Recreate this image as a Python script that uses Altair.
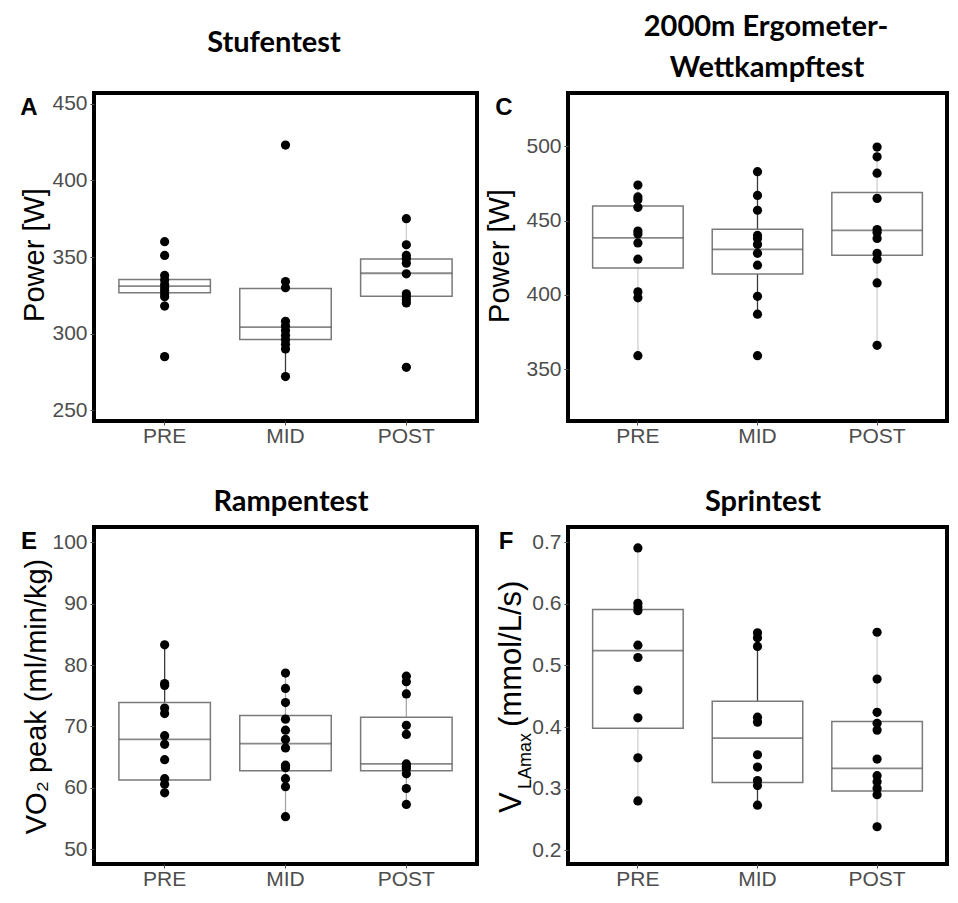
import altair as alt
import pandas as pd

cats = ["PRE", "MID", "POST"]

# ---------------- Panel A: Stufentest, Power [W]
a_pre = [360, 351, 338, 335, 332, 330, 328, 326, 324, 318, 285]
a_mid = [423, 334, 330, 308, 305, 302, 299, 296, 293, 290, 272]
a_post = [375, 358, 351, 349, 346, 339, 326, 324, 322, 320, 278]
a_q1 = [326.7, 296.1, 324.4]
a_med = [331.0, 304.3, 339.4]
a_q3 = [335.3, 329.5, 348.7]
a_lo = [318, 272, 320]
a_hi = [338, 334, 375]

# ---------------- Panel C: 2000m Ergometer-Wettkampftest, Power [W]
c_pre = [474, 466, 464, 459, 443, 441, 435, 424, 402, 398, 359]
c_mid = [483, 467, 457, 440, 438, 434, 428, 420, 399, 387, 359]
c_post = [499.6, 493, 482, 465, 444, 442, 438, 428, 424, 408, 366]
c_q1 = [418.1, 414.1, 426.7]
c_med = [438.4, 430.7, 443.5]
c_q3 = [459.9, 444.2, 469.0]
c_lo = [359, 387, 366]
c_hi = [474, 483, 499.6]

# ---------------- Panel E: Rampentest, VO2 peak
e_pre = [83.3, 77.0, 76.7, 73.0, 72.1, 68.5, 67.1, 64.6, 61.5, 60.6, 59.2]
e_mid = [78.7, 76.2, 73.9, 71.2, 69.4, 67.9, 66.5, 63.7, 63.3, 61.5, 60.2, 55.3]
e_post = [78.2, 77.3, 75.3, 70.2, 68.7, 63.9, 63.5, 63.1, 62.3, 59.9, 57.3]
e_q1 = [61.3, 62.8, 62.8]
e_med = [67.9, 67.2, 63.9]
e_q3 = [73.9, 71.8, 71.5]
e_lo = [59.2, 55.3, 57.3]
e_hi = [83.3, 78.7, 78.2]

# ---------------- Panel F: Sprintest, VLamax
f_pre = [0.691, 0.601, 0.595, 0.589, 0.533, 0.513, 0.460, 0.415, 0.350, 0.280]
f_mid = [0.553, 0.545, 0.531, 0.416, 0.408, 0.355, 0.335, 0.313, 0.305, 0.273]
f_post = [0.554, 0.478, 0.424, 0.406, 0.395, 0.348, 0.321, 0.311, 0.300, 0.290, 0.238]
f_q1 = [0.398, 0.310, 0.296]
f_med = [0.524, 0.382, 0.333]
f_q3 = [0.591, 0.442, 0.409]
f_lo = [0.280, 0.273, 0.238]
f_hi = [0.691, 0.553, 0.554]

LIGHT = "#cfcfcf"
DARK = "#3a3a3a"
MIDG = "#a5a5a5"

PI = 0.243
PO = 0.206
LABEL_FONT = "Liberation Sans"
TITLE_FONT = "Lato"


def txt(s, size, x, y, angle=0, align="center", baseline="middle",
        weight="normal", font=LABEL_FONT):
    return alt.Chart(pd.DataFrame({"t": [s]})).mark_text(
        font=font, fontSize=size, angle=angle, align=align,
        baseline=baseline, fontWeight=weight, color="black").encode(
        text="t:N", x=alt.value(x), y=alt.value(y))


def panel(points, q1, med, q3, lo, hi, wcols, domain, ticks, fmt, w, h,
          extras):
    pts = pd.DataFrame(
        [(c, v) for c, vals in zip(cats, points) for v in vals],
        columns=["cat", "value"],
    )
    st = pd.DataFrame({"cat": cats, "lo": lo, "q1": q1, "med": med,
                       "q3": q3, "hi": hi, "wcol": wcols})
    bw = w / (3 - PI + 2 * PO) * (1 - PI)
    xaxis = alt.Axis(title=None, labelAngle=0, labelFontSize=21,
                     labelPadding=0, tickSize=4, labelFont=LABEL_FONT)
    xs = alt.X("cat:N", sort=cats,
               scale=alt.Scale(paddingInner=PI, paddingOuter=PO),
               axis=xaxis)
    ysc = alt.Scale(domain=domain, nice=False, zero=False)
    yaxis = alt.Axis(values=ticks, format=fmt, title=None,
                     labelFontSize=21, tickSize=4, labelPadding=3)
    base = alt.Chart(st)
    wl = base.mark_rule(strokeWidth=1.3).encode(
        x=xs, y=alt.Y("lo:Q", scale=ysc, axis=yaxis), y2="q1:Q",
        color=alt.Color("wcol:N", scale=None))
    wh = base.mark_rule(strokeWidth=1.3).encode(
        x=xs, y=alt.Y("q3:Q", scale=ysc, axis=yaxis), y2="hi:Q",
        color=alt.Color("wcol:N", scale=None))
    box = base.mark_bar(fill="white", stroke="#7a7a7a", strokeWidth=1.5).encode(
        x=xs, y=alt.Y("q1:Q", scale=ysc, axis=yaxis), y2="q3:Q")
    md = base.mark_tick(color="#555555", thickness=1.8, size=bw).encode(
        x=xs, y=alt.Y("med:Q", scale=ysc, axis=yaxis))
    pt = alt.Chart(pts).mark_circle(size=85, color="black", opacity=1).encode(
        x=xs, y=alt.Y("value:Q", scale=ysc, axis=yaxis))
    return alt.layer(wl, wh, box, md, pt, *extras).properties(width=w, height=h)


H1 = 328
H2 = 337
TS = 29   # panel title size
YS = 29   # y title size
LS = 24   # panel letter size

wA, wC, wE, wF = 383, 379, 383, 379

pA = panel([a_pre, a_mid, a_post], a_q1, a_med, a_q3, a_lo, a_hi,
           [LIGHT, DARK, LIGHT], [243, 457], [250, 300, 350, 400, 450], "d",
           wA, H1,
           [txt("Stufentest", TS, 180, -50, weight="bold", font=TITLE_FONT),
            txt("A", LS, -65, 15, weight="bold"),
            txt("Power [W]", YS, -50, H1 / 2 - 2, angle=270,
                baseline="alphabetic")])

pC = panel([c_pre, c_mid, c_post], c_q1, c_med, c_q3, c_lo, c_hi,
           [LIGHT, DARK, LIGHT], [315, 536], [350, 400, 450, 500], "d",
           wC, H1,
           [txt("2000m Ergometer-", TS, 198, -66, weight="bold", font=TITLE_FONT),
            txt("Wettkampftest", TS, 199, -25, weight="bold", font=TITLE_FONT),
            txt("C", LS, -64, 15, weight="bold"),
            txt("Power [W]", YS, -59, H1 / 2 - 1, angle=270,
                baseline="alphabetic")])

pE = panel([e_pre, e_mid, e_post], e_q1, e_med, e_q3, e_lo, e_hi,
           [DARK, MIDG, MIDG], [47.6, 102.5], [50, 60, 70, 80, 90, 100], "d",
           wE, H2,
           [txt("Rampentest", TS, 197, -25, weight="bold", font=TITLE_FONT),
            txt("E", LS, -65, 15, weight="bold"),
            txt("VO\u2082 peak (ml/min/kg)", 29, -48, H2 / 2 + 1, angle=270,
                baseline="alphabetic")])

pF = panel([f_pre, f_mid, f_post], f_q1, f_med, f_q3, f_lo, f_hi,
           [LIGHT, DARK, LIGHT], [0.1775, 0.725],
           [0.2, 0.3, 0.4, 0.5, 0.6, 0.7], ".1f",
           wF, H2,
           [txt("Sprintest", TS, 195, -25, weight="bold", font=TITLE_FONT),
            txt("F", LS, -62, 15, weight="bold"),
            txt("V", 31, -47, H2 - 51, angle=270, align="left",
                baseline="alphabetic"),
            txt("LAmax", 18, -37, H2 - 75, angle=270, align="left",
                baseline="alphabetic"),
            txt("(mmol/L/s)", 31, -47, H2 - 137, angle=270, align="left",
                baseline="alphabetic")])

chart = alt.concat(
    pA, pC, pE, pF, columns=2, bounds="flush",
    spacing={"row": 106, "column": 91},
).properties(
    padding={"left": 10, "top": 3, "right": 0, "bottom": 0}
).configure_view(
    stroke="black", strokeWidth=4
).configure_axis(
    domain=False, grid=False, labelColor="#4d4d4d", tickColor="#4d4d4d",
    labelFont=LABEL_FONT
)

chart.save("out.html", embed_options={"renderer": "svg", "actions": False})
